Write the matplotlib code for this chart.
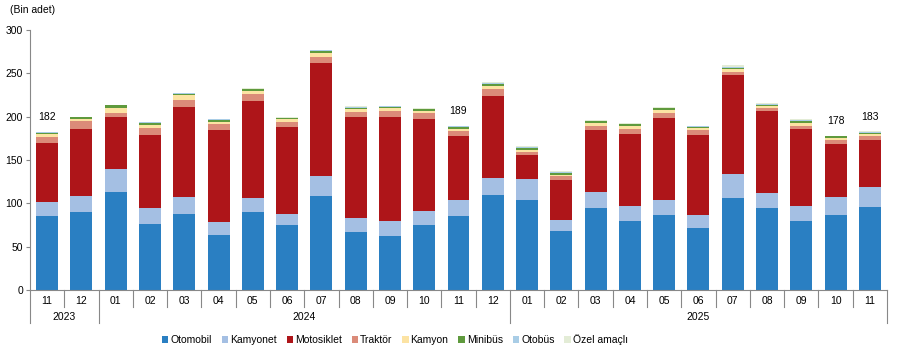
import matplotlib
matplotlib.use("Agg")
import matplotlib.pyplot as plt
import numpy as np
from matplotlib.patches import Patch
import matplotlib.transforms as mtransforms

plt.rcParams['font.family'] = ['Liberation Sans', 'DejaVu Sans']

months = ["11", "12", "01", "02", "03", "04", "05", "06", "07", "08", "09", "10", "11",
          "12", "01", "02", "03", "04", "05", "06", "07", "08", "09", "10", "11"]
years = ["2023", "2024", "2025"]
year_counts = [2, 12, 11]

otomobil = [85.5, 89.6, 113.5, 76.6, 88.0, 63.9, 89.6, 75.4, 108.9, 66.5, 62.7, 74.6, 85.0,
            109.2, 104.3, 68.5, 95.0, 80.0, 87.0, 72.0, 106.6, 95.0, 80.0, 87.0, 96.2]
kamyonet = [16.2, 19.3, 26.5, 18.4, 19.7, 14.1, 17.0, 12.6, 23.1, 17.0, 16.5, 17.0, 19.3,
            20.5, 24.2, 12.7, 18.5, 17.3, 17.3, 15.0, 27.7, 17.4, 17.3, 20.7, 23.1]
motosiklet = [68.0, 77.4, 60.0, 84.3, 104.0, 107.0, 112.0, 100.6, 130.5, 116.5, 120.8, 106.2, 73.9,
              94.7, 27.7, 45.4, 71.5, 83.2, 94.7, 92.3, 114.3, 94.6, 89.0, 60.8, 54.3]
traktor = [7.0, 9.2, 4.7, 8.1, 8.0, 7.0, 8.1, 5.7, 6.9, 5.9, 7.0, 6.9, 5.8,
           8.0, 3.5, 4.6, 4.7, 5.8, 5.7, 5.7, 3.4, 3.5, 3.4, 4.6, 4.6]
kamyon = [3.5, 2.3, 5.8, 3.5, 5.0, 2.3, 3.3, 3.2, 4.3, 2.6, 2.7, 2.3, 2.3,
          3.1, 2.3, 1.8, 3.1, 3.4, 3.5, 2.4, 3.5, 2.3, 3.5, 2.3, 2.3]
minibus = [1.5, 1.5, 2.5, 1.9, 2.0, 2.0, 1.6, 0.8, 2.3, 2.0, 2.0, 1.5, 1.9,
           2.4, 2.0, 2.0, 1.9, 1.5, 1.5, 1.2, 1.2, 1.2, 2.3, 2.3, 1.1]
otobus = [0.3, 0.4, 0.5, 0.8, 0.6, 0.7, 0.8, 0.6, 0.5, 0.7, 0.6, 0.7, 0.5,
          0.9, 0.8, 0.9, 0.7, 0.8, 0.7, 0.4, 0.8, 0.9, 0.7, 0.3, 0.8]
ozel = [0.3, 0.3, 0.3, 0.6, 0.5, 0.5, 0.6, 1.0, 0.3, 0.8, 0.5, 0.8, 0.4,
        1.2, 1.0, 1.0, 0.7, 0.8, 0.9, 0.4, 1.6, 1.0, 0.6, 0.2, 0.6]
label_idx = [0, 12, 23, 24]

series = [
    ("Otomobil", otomobil, "#2a7fc2"),
    ("Kamyonet", kamyonet, "#a4bfe3"),
    ("Motosiklet", motosiklet, "#ae1519"),
    ("Traktör", traktor, "#db8b79"),
    ("Kamyon", kamyon, "#fce3a3"),
    ("Minibüs", minibus, "#5f9a3d"),
    ("Otobüs", otobus, "#a9cde6"),
    ("Özel amaçlı", ozel, "#e3ecd6"),
]

fig = plt.figure(figsize=(9.01, 3.53), dpi=100)
ax = fig.add_axes([30/901, 1-290/353, 857/901, 260/353])

x = np.arange(len(months))
bottom = np.zeros(len(months))
for name, vals, col in series:
    v = np.array(vals)
    ax.bar(x, v, bottom=bottom, width=0.64, color=col, label=name, linewidth=0)
    bottom += v

for i in label_idx:
    ax.annotate(f"{int(bottom[i])}", (x[i], bottom[i]), xytext=(0, 7),
                textcoords="offset points", ha="center", va="bottom", fontsize=7.5)

ax.set_xlim(-0.5, len(months) - 0.5)
ax.set_ylim(0, 300)
ax.set_yticks(np.arange(0, 301, 50))
ax.tick_params(axis='y', labelsize=7.5, length=3, color="#888888", pad=2)
ax.set_xticks([])
for s in ["top", "right"]:
    ax.spines[s].set_visible(False)
for s in ["left", "bottom"]:
    ax.spines[s].set_color("#888888")
    ax.spines[s].set_linewidth(0.8)

trans = mtransforms.blended_transform_factory(ax.transData, ax.transAxes)
# month labels and separators
for i, m in enumerate(months):
    ax.text(i, -10.7/260, m, transform=trans, ha="center", va="center", fontsize=7.5)
year_bounds = np.cumsum([0] + year_counts) - 0.5
for b in np.arange(-0.5, len(months)):
    depth = -33/260 if b in year_bounds else -17/260
    ax.plot([b, b], [0, depth], transform=trans, color="#888888", lw=0.8, clip_on=False)
for k, y in enumerate(years):
    c = (year_bounds[k] + year_bounds[k+1]) / 2
    ax.text(c, -27.5/260, y, transform=trans, ha="center", va="center", fontsize=7.5)

fig.text(10/901, 1-10/353, "(Bin adet)", ha="left", va="center", fontsize=7.5)

handles = [Patch(facecolor=c, edgecolor="none") for _, _, c in series]
labels = [n for n, _, _ in series]
fig.legend(handles, labels, ncol=8, loc="center", bbox_to_anchor=(395/901, 1-340/353),
           frameon=False, fontsize=7.5, handlelength=0.6, handleheight=0.6,
           handletextpad=0.2, columnspacing=0.95)

fig.savefig("out.png", dpi=100)
